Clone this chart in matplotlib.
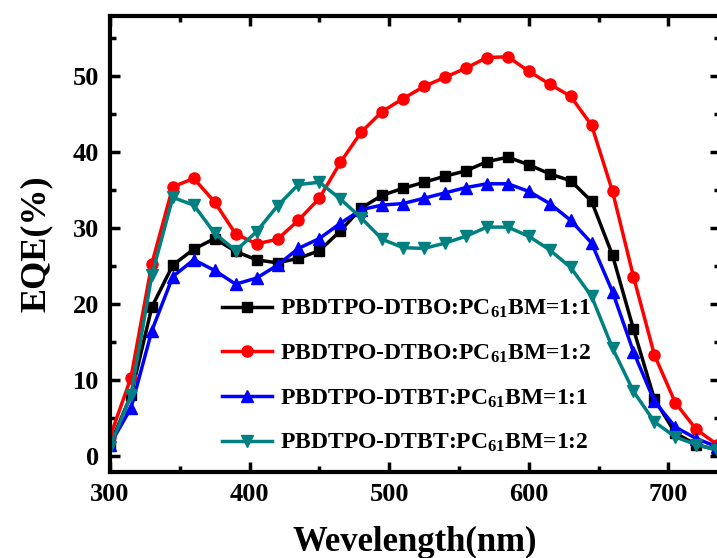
import matplotlib
matplotlib.use('Agg')
import matplotlib.pyplot as plt

plt.rcParams['font.family'] = ['Liberation Serif', 'DejaVu Serif']
plt.rcParams['font.weight'] = 'bold'
plt.rcParams['mathtext.fontset'] = 'custom'
plt.rcParams['mathtext.rm'] = 'Liberation Serif:bold'
plt.rcParams['mathtext.it'] = 'Liberation Serif:bold'
plt.rcParams['mathtext.bf'] = 'Liberation Serif:bold'
plt.rcParams['mathtext.default'] = 'rm'

# wavelength (nm)
wl = [300, 315, 330, 345, 360, 375, 390, 405, 420, 435, 450, 465, 480, 495, 510,
      525, 540, 555, 570, 585, 600, 615, 630, 645, 660, 675, 690, 705, 720, 735]

# EQE (%)
dtbo_11 = [1.5, 8.0, 19.6, 25.1, 27.2, 28.6, 26.9, 25.8, 25.4, 26.0, 27.0, 29.6, 32.6, 34.3, 35.2,
           36.0, 36.8, 37.5, 38.7, 39.3, 38.3, 37.1, 36.2, 33.5, 26.4, 16.7, 7.5, 3.0, 1.5, 0.8]
dtbo_12 = [2.5, 10.3, 25.3, 35.4, 36.5, 33.4, 29.2, 27.9, 28.5, 31.0, 33.9, 38.6, 42.6, 45.3, 47.0,
           48.6, 49.8, 51.0, 52.4, 52.5, 50.6, 48.9, 47.3, 43.5, 34.8, 23.6, 13.3, 7.0, 3.5, 1.5]
dtbt_11 = [1.5, 6.3, 16.5, 23.6, 25.8, 24.4, 22.6, 23.4, 25.1, 27.3, 28.6, 30.6, 32.4, 33.0, 33.2,
           33.9, 34.6, 35.3, 35.8, 35.8, 34.8, 33.2, 31.0, 28.0, 21.6, 13.7, 7.2, 3.8, 2.3, 1.2]
dtbt_12 = [1.2, 8.0, 23.8, 34.0, 33.0, 29.3, 27.0, 29.5, 32.9, 35.7, 36.0, 33.8, 31.3, 28.5, 27.4,
           27.3, 28.0, 28.9, 30.1, 30.1, 28.9, 27.1, 24.8, 21.0, 14.2, 8.5, 4.5, 2.5, 1.5, 0.8]

labels = ['PBDTPO-DTBO:PC$_{61}$BM=1:1', 'PBDTPO-DTBO:PC$_{61}$BM=1:2',
          'PBDTPO-DTBT:PC$_{61}$BM=1:1', 'PBDTPO-DTBT:PC$_{61}$BM=1:2']

fig = plt.figure(figsize=(7.17, 5.58), dpi=100)
ax = fig.add_axes([110 / 717, (558 - 472) / 558, 610 / 717, (472 - 15.7) / 558])

ax.plot(wl, dtbo_11, '-s', color='black', lw=2.5, ms=7, label=labels[0])
ax.plot(wl, dtbo_12, '-o', color='#ff0000', lw=2.5, ms=8, label=labels[1])
ax.plot(wl, dtbt_11, '-^', color='#0000ff', lw=2.5, ms=8, label=labels[2])
ax.plot(wl, dtbt_12, '-v', color='#008080', lw=2.5, ms=8, label=labels[3])

ax.set_xlim(300, 737)
ax.set_ylim(-2.1, 57.9)
ax.set_xticks([300, 400, 500, 600, 700])
ax.set_xticks([350, 450, 550, 650], minor=True)
ax.set_yticks([0, 10, 20, 30, 40, 50])
ax.set_yticks([5, 15, 25, 35, 45, 55], minor=True)

for s in ax.spines.values():
    s.set_linewidth(3)
ax.tick_params(which='both', direction='in', top=True, right=True, width=2.5)
ax.tick_params(which='major', length=7, labelsize=19, pad=8)
ax.tick_params(which='minor', length=4)

ax.set_xlabel('Wevelength(nm)', fontsize=25, fontweight='bold', labelpad=14)
ax.set_ylabel('EQE(%)', fontsize=26, fontweight='bold', labelpad=14)

ax.legend(loc='center left', bbox_to_anchor=(0.184, 0.21), frameon=False,
          handlelength=2.1, handletextpad=0.35, labelspacing=0.95,
          borderpad=0, borderaxespad=0, prop={'weight': 'bold', 'size': 17})

fig.savefig('out.png', dpi=100)
